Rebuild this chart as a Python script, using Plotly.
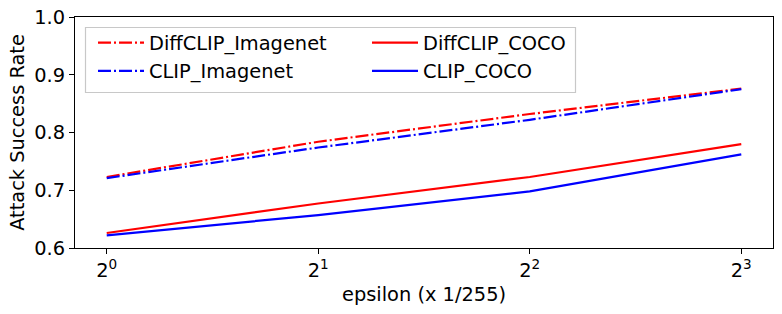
import plotly.graph_objects as go

epsilon = [1, 2, 4, 8]
tick_labels = ["2<sup>0</sup>", "2<sup>1</sup>", "2<sup>2</sup>", "2<sup>3</sup>"]
diffclip_imagenet = [0.723, 0.784, 0.832, 0.876]
clip_imagenet = [0.721, 0.774, 0.822, 0.875]
diffclip_coco = [0.626, 0.677, 0.723, 0.780]
clip_coco = [0.622, 0.657, 0.698, 0.762]

DD = "13px,3px,2px,3px"
FONT = "DejaVu Sans"
FS = 19.4

# figure fills the page (body margin removed); plot area in pixels: x 75..773, y 17..248
FIG_W, FIG_H = 782, 314
PL, PR, PT, PB = 75, 773, 17, 248
W, H = PR - PL, PB - PT


def px(x):
    return (x - PL) / W


def py(y):
    return (PB - y) / H


fig = go.Figure()
fig.add_trace(go.Scatter(x=epsilon, y=diffclip_imagenet, mode="lines", name="DiffCLIP_Imagenet",
                         line=dict(color="red", width=2.2, dash=DD), legendrank=1))
fig.add_trace(go.Scatter(x=epsilon, y=clip_imagenet, mode="lines", name="CLIP_Imagenet",
                         line=dict(color="blue", width=2.2, dash=DD), legendrank=3))
fig.add_trace(go.Scatter(x=epsilon, y=diffclip_coco, mode="lines", name="DiffCLIP_COCO",
                         line=dict(color="red", width=2.2), legendrank=2))
fig.add_trace(go.Scatter(x=epsilon, y=clip_coco, mode="lines", name="CLIP_COCO",
                         line=dict(color="blue", width=2.2), legendrank=4))

# legend frame like matplotlib's
fig.add_shape(type="rect", xref="paper", yref="paper",
              x0=px(85.5), x1=px(575.5), y0=py(92.5), y1=py(27.5),
              line=dict(color="#c8c8c8", width=1.2), fillcolor="white",
              layer="below")

fig.update_layout(
    width=FIG_W, height=FIG_H,
    margin=dict(l=PL, r=FIG_W - PR, t=PT, b=FIG_H - PB, autoexpand=False),
    plot_bgcolor="white", paper_bgcolor="white",
    font=dict(family=FONT, size=FS, color="black"),
    legend=dict(
        orientation="h", x=px(93), y=py(23.5), xanchor="left", yanchor="top",
        entrywidth=213, entrywidthmode="pixels", itemwidth=46,
        bgcolor="rgba(0,0,0,0)", borderwidth=0,
        font=dict(family=FONT, size=FS, color="black"),
        traceorder="normal",
    ),
    xaxis=dict(
        type="log", range=[-0.04515, 0.94824],
        tickvals=epsilon, ticktext=tick_labels,
        ticks="outside", ticklen=5, tickwidth=1, tickcolor="black",
        showline=True, linecolor="black", linewidth=1, mirror=True,
        showgrid=False, zeroline=False, automargin=False,
        ticklabeloverflow="allow",
        title=dict(text="epsilon (x 1/255)", standoff=6, font=dict(size=FS)),
        tickfont=dict(size=FS),
    ),
    yaxis=dict(
        range=[0.6, 1.0], tickvals=[0.6, 0.7, 0.8, 0.9, 1.0], tickformat=".1f",
        ticks="outside", ticklen=5, tickwidth=1, tickcolor="black",
        showline=True, linecolor="black", linewidth=1, mirror=True,
        showgrid=False, zeroline=False, automargin=False,
        ticklabeloverflow="allow",
        title=dict(text="Attack Success Rate", standoff=4, font=dict(size=FS)),
        tickfont=dict(size=FS),
    ),
)

fig.write_html("out.html", config={"displayModeBar": False},
               post_script="document.body.style.margin='0';document.body.style.overflow='hidden';")
